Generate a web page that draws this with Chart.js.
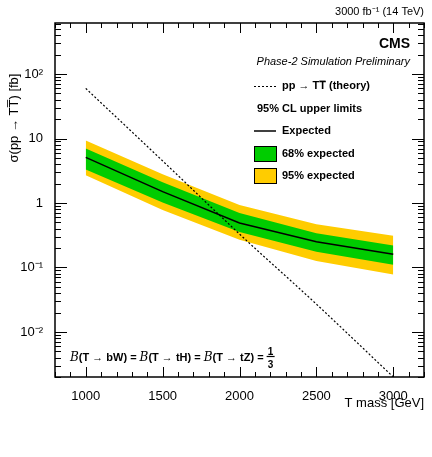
<!DOCTYPE html>
<html><head><meta charset="utf-8">
<script src="https://cdn.jsdelivr.net/npm/chart.js@4.4.0/dist/chart.umd.min.js"></script>
<style>html,body{margin:0;padding:0;background:#fff}#c{display:block}</style>
</head><body>
<div style="width:432px;height:457px"><canvas id="c" width="432" height="457"></canvas></div>
<script>
const masses = [1000, 1500, 2000, 2500, 3000];
const expected = [5.1, 1.5, 0.49, 0.25, 0.16];
const band68Up = [7.0, 2.1, 0.70, 0.34, 0.22];
const band68Dn = [3.3, 1.02, 0.355, 0.175, 0.11];
const band95Up = [9.3, 2.8, 0.93, 0.47, 0.31];
const band95Dn = [2.7, 0.78, 0.27, 0.126, 0.078];
const theoryM = [1000, 1500, 2000, 2500, 3000];
const theory = [60, 4.5, 0.33, 0.027, 0.002];
const xLabels = [1000, 1500, 2000, 2500, 3000];
const yMajor = {0.01:'10\u207B\u00B2', 0.1:'10\u207B\u00B9', 1:'1', 10:'10', 100:'10\u00B2'};
const pts = (xs, ys) => xs.map((x, i) => ({x, y: ys[i]}));
const F = 'Liberation Sans, Arial, sans-serif';

const deco = {
  id: 'deco',
  afterDraw(ch) {
    const c = ch.ctx, a = ch.chartArea, xs = ch.scales.x, ys = ch.scales.y;
    c.save();
    c.strokeStyle = '#000'; c.lineWidth = 1;
    c.lineWidth = 1.5;
    c.strokeRect(a.left, a.top, a.right - a.left, a.bottom - a.top);
    c.lineWidth = 1;
    for (let v = 800; v <= 3200; v += 100) {
      const p = Math.round(xs.getPixelForValue(v)) + .5;
      const L = v % 500 === 0 ? 10 : 5;
      c.beginPath(); c.moveTo(p, a.bottom); c.lineTo(p, a.bottom - L);
      c.moveTo(p, a.top); c.lineTo(p, a.top + L); c.stroke();
    }
    for (let e = -3; e <= 2; e++) for (let k = 1; k <= 9; k++) {
      const v = k * Math.pow(10, e);
      if (v < ys.min || v > ys.max) continue;
      const p = Math.round(ys.getPixelForValue(v)) + .5;
      const L = k === 1 ? 12 : 6;
      c.beginPath(); c.moveTo(a.left, p); c.lineTo(a.left + L, p);
      c.moveTo(a.right, p); c.lineTo(a.right - L, p); c.stroke();
    }
    c.fillStyle = '#000';
    c.font = '11px ' + F; c.textAlign = 'right'; c.textBaseline = 'alphabetic';
    c.fillText('3000 fb\u207B\u00B9 (14 TeV)', 424, 15);
    c.font = 'bold 14px ' + F; c.fillText('CMS', 410, 48);
    c.font = 'italic 11px ' + F; c.fillText('Phase-2 Simulation Preliminary', 410, 65);
    c.font = '13px ' + F; c.fillText('T mass [GeV]', 424, 407);
    c.save(); c.translate(18, 118); c.rotate(-Math.PI/2); c.textAlign = 'center';
    c.font = '13px ' + F;
    c.fillText('\u03C3(pp \u2192 TT\u0305) [fb]', 0, 0); c.restore();
    c.font = 'bold 11px ' + F; c.textAlign = 'left'; c.textBaseline = 'middle';
    c.setLineDash([2, 2]); c.beginPath(); c.moveTo(254, 86.5); c.lineTo(276, 86.5); c.stroke(); c.setLineDash([]);
    c.fillText('pp \u2192 TT\u0305 (theory)', 282, 86);
    c.fillText('95% CL upper limits', 257, 109);
    c.lineWidth = 1.5; c.beginPath(); c.moveTo(254, 131); c.lineTo(276, 131); c.stroke(); c.lineWidth = 1;
    c.fillText('Expected', 282, 131);
    c.fillStyle = '#00cc00'; c.fillRect(254, 146, 22, 15); c.strokeRect(254.5, 146.5, 22, 15);
    c.fillStyle = '#ffcc00'; c.fillRect(254, 168, 22, 15); c.strokeRect(254.5, 168.5, 22, 15);
    c.fillStyle = '#000';
    c.fillText('68% expected', 282, 154);
    c.fillText('95% expected', 282, 176);
    c.textBaseline = 'alphabetic';
    let x = 70; const y = 361;
    const seg = [['B', 'italic 12px DejaVu Serif, serif'], ['(T \u2192 bW) = ', 'bold 11px ' + F],
      ['B', 'italic 12px DejaVu Serif, serif'], ['(T \u2192 tH) = ', 'bold 11px ' + F],
      ['B', 'italic 12px DejaVu Serif, serif'], ['(T \u2192 tZ) = ', 'bold 11px ' + F]];
    for (const [t, f] of seg) { c.font = f; c.fillText(t, x, y); x += c.measureText(t).width; }
    c.font = 'bold 10px ' + F; c.textAlign = 'center';
    c.fillText('1', x + 4, y - 6); c.fillText('3', x + 4, y + 7);
    c.lineWidth = 1.2; c.beginPath(); c.moveTo(x, y - 4.5); c.lineTo(x + 8, y - 4.5); c.stroke();
    c.restore();
  }
};

new Chart(document.getElementById('c'), {
  type: 'line',
  data: { datasets: [
    { data: pts(masses, band95Up), borderWidth: 0, pointRadius: 0, fill: false, order: 4 },
    { data: pts(masses, band95Dn), borderWidth: 0, pointRadius: 0, fill: 0, backgroundColor: '#ffcc00', order: 4 },
    { data: pts(masses, band68Up), borderWidth: 0, pointRadius: 0, fill: false, order: 3 },
    { data: pts(masses, band68Dn), borderWidth: 0, pointRadius: 0, fill: 2, backgroundColor: '#00cc00', order: 3 },
    { data: pts(masses, expected), borderColor: '#000', borderWidth: 1.5, pointRadius: 0, fill: false, order: 1 },
    { data: pts(theoryM, theory), borderColor: '#000', borderWidth: 1.2, borderDash: [2, 2], pointRadius: 0, fill: false, cubicInterpolationMode: 'monotone', order: 0 }
  ]},
  options: {
    responsive: false, animation: false, events: [],
    layout: { padding: { top: 23, right: 8, left: 0, bottom: 0 } },
    plugins: { legend: { display: false }, tooltip: { enabled: false } },
    scales: {
      x: { type: 'linear', min: 800, max: 3200,
        afterBuildTicks: s => { s.ticks = xLabels.map(v => ({value: v})); },
        ticks: { color: '#000', font: { family: F, size: 13 }, maxRotation: 0, padding: 4, callback: v => String(v) },
        grid: { display: false }, border: { display: false },
        afterFit: s => { s.height = 80; } },
      y: { type: 'logarithmic', min: 0.002, max: 620,
        afterBuildTicks: s => { s.ticks = [0.01,0.1,1,10,100].map(v => ({value: v})); },
        ticks: { color: '#000', font: { family: F, size: 13 }, padding: 4, callback: v => yMajor[v] || '' },
        grid: { display: false }, border: { display: false },
        afterFit: s => { s.width = 55; } }
    }
  },
  plugins: [deco]
});
</script></body></html>
